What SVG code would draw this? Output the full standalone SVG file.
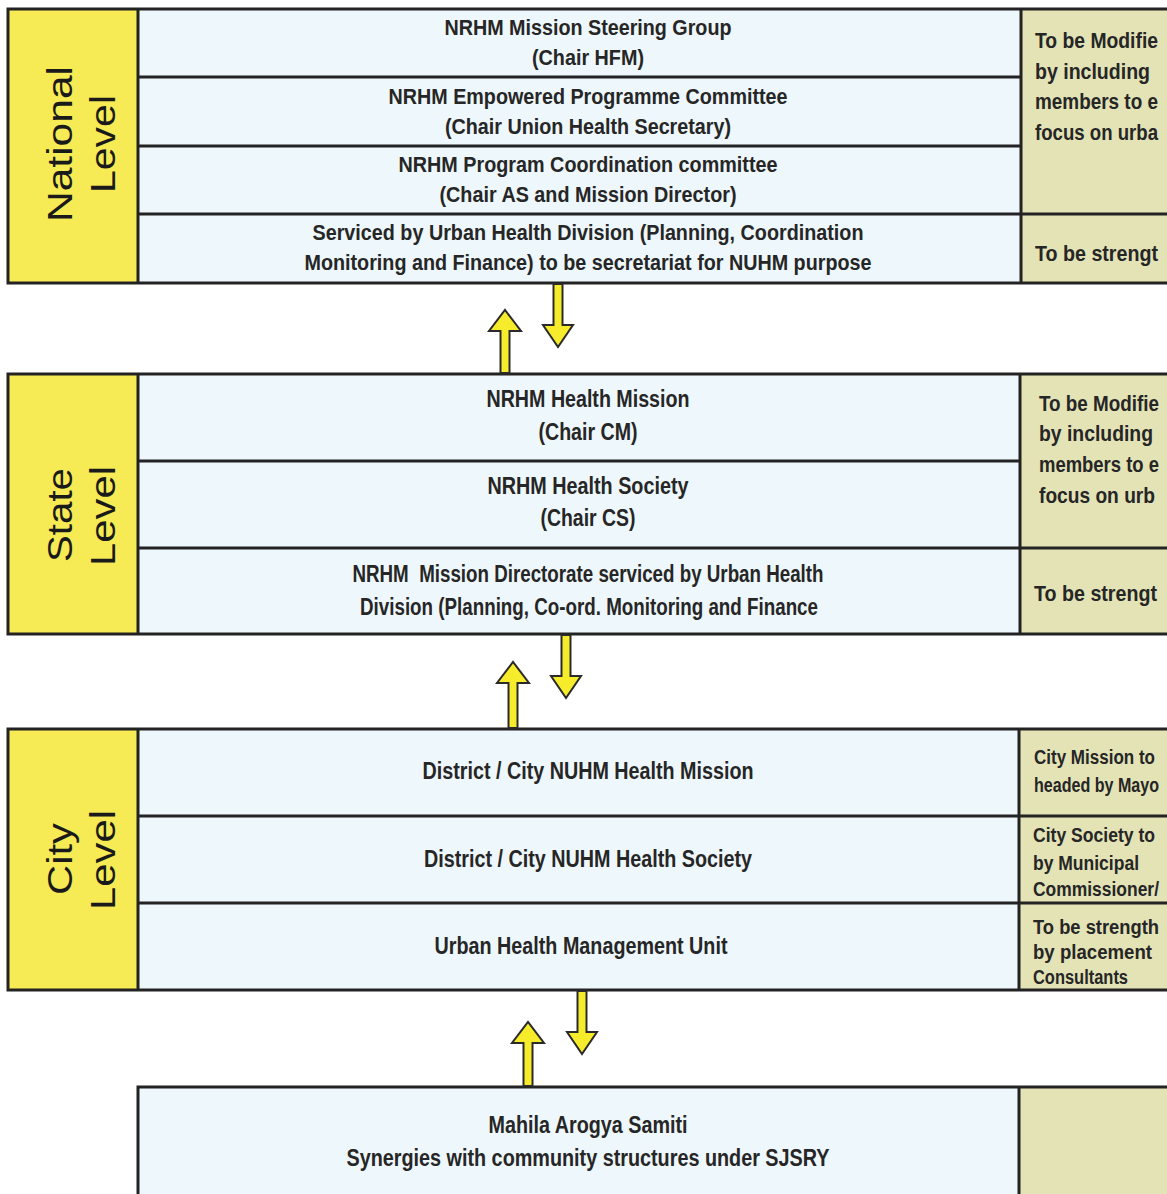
<svg xmlns="http://www.w3.org/2000/svg" width="1167" height="1194" viewBox="0 0 1167 1194">
<style>
.lab{fill:#f6ea55}
.mid{fill:#eef7fb}
.rt{fill:#e3e3b6}
.ln{stroke:#232323;stroke-width:3;fill:none}
.t{font-family:"Liberation Sans Narrow","Liberation Sans",Arial,sans-serif;font-weight:bold;fill:#262626;text-anchor:middle}
.n{font-size:22px}
.s{font-size:23px}
.r{font-family:"Liberation Sans Narrow","Liberation Sans",Arial,sans-serif;font-weight:bold;fill:#262626;font-size:22px}
.rs{font-size:20px}
.lv{font-family:"Liberation Sans",Arial,sans-serif;font-size:35px;fill:#1a1a1a;text-anchor:middle}
.arr{fill:#f7ec2c;stroke:#2a2a2a;stroke-width:2;stroke-linejoin:miter}
</style>
<rect width="1167" height="1194" fill="#ffffff"/>

<g id="national">
<rect class="mid" x="138" y="9" width="883" height="274"/>
<rect class="rt" x="1021" y="9" width="160" height="274"/>
<rect class="lab" x="8" y="9" width="130" height="274"/>
<rect class="ln" x="8" y="9" width="1180" height="274"/>
<line class="ln" x1="138" y1="9" x2="138" y2="283"/>
<line class="ln" x1="1021" y1="9" x2="1021" y2="283"/>
<line class="ln" x1="138" y1="77" x2="1021" y2="77"/>
<line class="ln" x1="138" y1="146" x2="1021" y2="146"/>
<line class="ln" x1="138" y1="214" x2="1180" y2="214"/>
<text class="lv" transform="translate(72,144) rotate(-90)" textLength="156" lengthAdjust="spacingAndGlyphs">National</text>
<text class="lv" transform="translate(115,144) rotate(-90)" textLength="98" lengthAdjust="spacingAndGlyphs">Level</text>
<text class="t n" x="588" y="35" textLength="287" lengthAdjust="spacingAndGlyphs">NRHM Mission Steering Group</text>
<text class="t n" x="588" y="65" textLength="112" lengthAdjust="spacingAndGlyphs">(Chair HFM)</text>
<text class="t n" x="588" y="104" textLength="399" lengthAdjust="spacingAndGlyphs">NRHM Empowered Programme Committee</text>
<text class="t n" x="588" y="134" textLength="286" lengthAdjust="spacingAndGlyphs">(Chair Union Health Secretary)</text>
<text class="t n" x="588" y="172" textLength="379" lengthAdjust="spacingAndGlyphs">NRHM Program Coordination committee</text>
<text class="t n" x="588" y="202" textLength="297" lengthAdjust="spacingAndGlyphs">(Chair AS and Mission Director)</text>
<text class="t n" x="588" y="240" textLength="551" lengthAdjust="spacingAndGlyphs">Serviced by Urban Health Division (Planning, Coordination</text>
<text class="t n" x="588" y="270" textLength="567" lengthAdjust="spacingAndGlyphs">Monitoring and Finance) to be secretariat for NUHM purpose</text>
<text class="r" x="1035" y="48" textLength="123" lengthAdjust="spacingAndGlyphs">To be Modifie</text>
<text class="r" x="1035" y="79" textLength="115" lengthAdjust="spacingAndGlyphs">by including</text>
<text class="r" x="1035" y="109" textLength="123" lengthAdjust="spacingAndGlyphs">members to e</text>
<text class="r" x="1035" y="140" textLength="123" lengthAdjust="spacingAndGlyphs">focus on urba</text>
<text class="r" x="1035" y="261" textLength="123" lengthAdjust="spacingAndGlyphs">To be strengt</text>
</g>

<g id="state">
<rect class="mid" x="138" y="374" width="883" height="260"/>
<rect class="rt" x="1020" y="374" width="160" height="260"/>
<rect class="lab" x="8" y="374" width="130" height="260"/>
<rect class="ln" x="8" y="374" width="1180" height="260"/>
<line class="ln" x1="138" y1="374" x2="138" y2="634"/>
<line class="ln" x1="1020" y1="374" x2="1020" y2="634"/>
<line class="ln" x1="138" y1="461" x2="1020" y2="461"/>
<line class="ln" x1="138" y1="548" x2="1180" y2="548"/>
<text class="lv" transform="translate(72,515) rotate(-90)" textLength="94" lengthAdjust="spacingAndGlyphs">State</text>
<text class="lv" transform="translate(115,516) rotate(-90)" textLength="100" lengthAdjust="spacingAndGlyphs">Level</text>
<text class="t s" x="588" y="407" textLength="203" lengthAdjust="spacingAndGlyphs">NRHM Health Mission</text>
<text class="t s" x="588" y="440" textLength="99" lengthAdjust="spacingAndGlyphs">(Chair CM)</text>
<text class="t s" x="588" y="494" textLength="201" lengthAdjust="spacingAndGlyphs">NRHM Health Society</text>
<text class="t s" x="588" y="526" textLength="95" lengthAdjust="spacingAndGlyphs">(Chair CS)</text>
<text class="t s" x="588" y="582" textLength="471" lengthAdjust="spacingAndGlyphs" xml:space="preserve">NRHM  Mission Directorate serviced by Urban Health</text>
<text class="t s" x="589" y="615" textLength="458" lengthAdjust="spacingAndGlyphs">Division (Planning, Co-ord. Monitoring and Finance</text>
<text class="r" x="1039" y="411" textLength="120" lengthAdjust="spacingAndGlyphs">To be Modifie</text>
<text class="r" x="1039" y="441" textLength="114" lengthAdjust="spacingAndGlyphs">by including</text>
<text class="r" x="1039" y="472" textLength="120" lengthAdjust="spacingAndGlyphs">members to e</text>
<text class="r" x="1039" y="503" textLength="116" lengthAdjust="spacingAndGlyphs">focus on urb</text>
<text class="r" x="1034" y="601" textLength="123" lengthAdjust="spacingAndGlyphs">To be strengt</text>
</g>

<g id="city">
<rect class="mid" x="138" y="729" width="882" height="261"/>
<rect class="rt" x="1019" y="729" width="160" height="261"/>
<rect class="lab" x="8" y="729" width="130" height="261"/>
<rect class="ln" x="8" y="729" width="1180" height="261"/>
<line class="ln" x1="138" y1="729" x2="138" y2="990"/>
<line class="ln" x1="1019" y1="729" x2="1019" y2="990"/>
<line class="ln" x1="138" y1="816" x2="1180" y2="816"/>
<line class="ln" x1="138" y1="903" x2="1180" y2="903"/>
<text class="lv" transform="translate(72,859) rotate(-90)" textLength="72" lengthAdjust="spacingAndGlyphs">City</text>
<text class="lv" transform="translate(115,860) rotate(-90)" textLength="100" lengthAdjust="spacingAndGlyphs">Level</text>
<text class="t s" x="588" y="779" textLength="331" lengthAdjust="spacingAndGlyphs">District / City NUHM Health Mission</text>
<text class="t s" x="588" y="867" textLength="328" lengthAdjust="spacingAndGlyphs">District / City NUHM Health Society</text>
<text class="t s" x="581" y="954" textLength="293" lengthAdjust="spacingAndGlyphs">Urban Health Management Unit</text>
<text class="r rs" x="1034" y="764" textLength="121" lengthAdjust="spacingAndGlyphs">City Mission to</text>
<text class="r rs" x="1034" y="792" textLength="125" lengthAdjust="spacingAndGlyphs">headed by Mayo</text>
<text class="r rs" x="1033" y="842" textLength="122" lengthAdjust="spacingAndGlyphs">City Society to</text>
<text class="r rs" x="1033" y="870" textLength="106" lengthAdjust="spacingAndGlyphs">by Municipal</text>
<text class="r rs" x="1033" y="896" textLength="126" lengthAdjust="spacingAndGlyphs">Commissioner/</text>
<text class="r rs" x="1033" y="934" textLength="126" lengthAdjust="spacingAndGlyphs">To be strength</text>
<text class="r rs" x="1033" y="959" textLength="119" lengthAdjust="spacingAndGlyphs">by placement</text>
<text class="r rs" x="1033" y="984" textLength="95" lengthAdjust="spacingAndGlyphs">Consultants</text>
</g>

<g id="community">
<rect class="mid" x="138" y="1087" width="881" height="120"/>
<rect class="rt" x="1019" y="1087" width="160" height="120"/>
<rect class="ln" x="138" y="1087" width="1050" height="130"/>
<line class="ln" x1="1019" y1="1087" x2="1019" y2="1194"/>
<text class="t s" x="588" y="1133" textLength="199" lengthAdjust="spacingAndGlyphs">Mahila Arogya Samiti</text>
<text class="t s" x="588" y="1166" textLength="483" lengthAdjust="spacingAndGlyphs">Synergies with community structures under SJSRY</text>
</g>

<g id="connectors">
<path class="arr" d="M500.5,373 L500.5,331 L489,331 L505,310 L521,331 L509.5,331 L509.5,373 Z"/>
<path class="arr" d="M553.5,284 L553.5,325 L543,325 L558,347 L573,325 L562.5,325 L562.5,284 Z"/>
<path class="arr" d="M508.5,728 L508.5,683 L497,683 L513,662 L529,683 L517.5,683 L517.5,728 Z"/>
<path class="arr" d="M561.5,635 L561.5,676 L551,676 L566,698 L581,676 L570.5,676 L570.5,635 Z"/>
<path class="arr" d="M523.5,1086 L523.5,1043 L512,1043 L528,1022 L544,1043 L532.5,1043 L532.5,1086 Z"/>
<path class="arr" d="M577.5,991 L577.5,1032 L567,1032 L582,1054 L597,1032 L586.5,1032 L586.5,991 Z"/>
</g>
</svg>
